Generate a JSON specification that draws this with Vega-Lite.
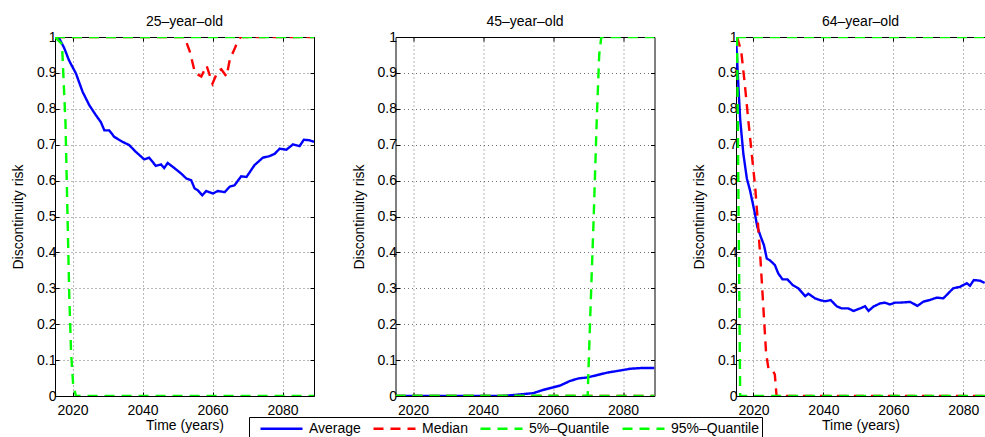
{
  "$schema": "https://vega.github.io/schema/vega-lite/v6.json",
  "padding": {"left": 11, "top": 15, "right": 0, "bottom": 0},
  "config": {
    "font": "Liberation Sans",
    "view": {"stroke": null},
    "title": {"font": "Liberation Sans", "fontSize": 14, "fontWeight": "normal", "color": "#000", "offset": 1},
    "axis": {
      "labelFont": "Liberation Sans", "labelFontSize": 14, "labelColor": "#000",
      "titleFont": "Liberation Sans", "titleFontSize": 14, "titleFontWeight": "normal", "titleColor": "#000",
      "domainColor": "#000", "domainWidth": 1, "tickColor": "#000", "tickSize": -4,
      "gridColor": "#333", "gridDash": [1, 3], "gridOpacity": 0.7, "gridWidth": 1
    },
    "legend": {
      "orient": "none", "legendX": 194, "legendY": 380, "direction": "horizontal", "columns": 4,
      "labelFont": "Liberation Sans", "labelFontSize": 14, "labelColor": "#000",
      "symbolType": "M0,0H6", "symbolSize": 196, "symbolStrokeWidth": 2.5,
      "labelOffset": 40, "columnPadding": 4, "padding": 3,
      "strokeColor": "#000", "fillColor": "#fff"
    }
  },
  "bounds": "flush",
  "spacing": 81.5,
  "data": {"name": "risk"},
  "datasets": {
    "risk": [
      {"age": 25, "series": "Average", "year": 2016, "risk": 1.0},
      {"age": 25, "series": "Average", "year": 2017.6, "risk": 0.97},
      {"age": 25, "series": "Average", "year": 2019, "risk": 0.935},
      {"age": 25, "series": "Average", "year": 2021, "risk": 0.898},
      {"age": 25, "series": "Average", "year": 2022.9, "risk": 0.847},
      {"age": 25, "series": "Average", "year": 2024.8, "risk": 0.81},
      {"age": 25, "series": "Average", "year": 2026.7, "risk": 0.782},
      {"age": 25, "series": "Average", "year": 2028.1, "risk": 0.763},
      {"age": 25, "series": "Average", "year": 2029.1, "risk": 0.74},
      {"age": 25, "series": "Average", "year": 2030.5, "risk": 0.74},
      {"age": 25, "series": "Average", "year": 2031.9, "risk": 0.722},
      {"age": 25, "series": "Average", "year": 2034.3, "risk": 0.708},
      {"age": 25, "series": "Average", "year": 2036.2, "risk": 0.699},
      {"age": 25, "series": "Average", "year": 2038.1, "risk": 0.68},
      {"age": 25, "series": "Average", "year": 2040.5, "risk": 0.659},
      {"age": 25, "series": "Average", "year": 2041.9, "risk": 0.664},
      {"age": 25, "series": "Average", "year": 2043.8, "risk": 0.641},
      {"age": 25, "series": "Average", "year": 2045.3, "risk": 0.645},
      {"age": 25, "series": "Average", "year": 2046.2, "risk": 0.635},
      {"age": 25, "series": "Average", "year": 2047.2, "risk": 0.649},
      {"age": 25, "series": "Average", "year": 2049.1, "risk": 0.635},
      {"age": 25, "series": "Average", "year": 2051, "risk": 0.62},
      {"age": 25, "series": "Average", "year": 2052.5, "risk": 0.606},
      {"age": 25, "series": "Average", "year": 2053.9, "risk": 0.601},
      {"age": 25, "series": "Average", "year": 2054.9, "risk": 0.578},
      {"age": 25, "series": "Average", "year": 2055.8, "risk": 0.573},
      {"age": 25, "series": "Average", "year": 2057.1, "risk": 0.559},
      {"age": 25, "series": "Average", "year": 2058.2, "risk": 0.571},
      {"age": 25, "series": "Average", "year": 2060.1, "risk": 0.564},
      {"age": 25, "series": "Average", "year": 2061.5, "risk": 0.571},
      {"age": 25, "series": "Average", "year": 2063.5, "risk": 0.568},
      {"age": 25, "series": "Average", "year": 2064.9, "risk": 0.583},
      {"age": 25, "series": "Average", "year": 2066.3, "risk": 0.587},
      {"age": 25, "series": "Average", "year": 2068.2, "risk": 0.612},
      {"age": 25, "series": "Average", "year": 2069.7, "risk": 0.61},
      {"age": 25, "series": "Average", "year": 2072, "risk": 0.643},
      {"age": 25, "series": "Average", "year": 2074.4, "risk": 0.664},
      {"age": 25, "series": "Average", "year": 2076.3, "risk": 0.668},
      {"age": 25, "series": "Average", "year": 2077.8, "risk": 0.675},
      {"age": 25, "series": "Average", "year": 2079.2, "risk": 0.689},
      {"age": 25, "series": "Average", "year": 2081.1, "risk": 0.686},
      {"age": 25, "series": "Average", "year": 2083, "risk": 0.701},
      {"age": 25, "series": "Average", "year": 2084.9, "risk": 0.696},
      {"age": 25, "series": "Average", "year": 2086.1, "risk": 0.714},
      {"age": 25, "series": "Average", "year": 2087.8, "risk": 0.712},
      {"age": 25, "series": "Average", "year": 2089, "risk": 0.708},
      {"age": 25, "series": "Median", "year": 2015, "risk": 1},
      {"age": 25, "series": "Median", "year": 2052, "risk": 1},
      {"age": 25, "series": "Median", "year": 2053.5, "risk": 0.96},
      {"age": 25, "series": "Median", "year": 2055, "risk": 0.9},
      {"age": 25, "series": "Median", "year": 2056.8, "risk": 0.89},
      {"age": 25, "series": "Median", "year": 2058.3, "risk": 0.92},
      {"age": 25, "series": "Median", "year": 2060, "risk": 0.87},
      {"age": 25, "series": "Median", "year": 2061.5, "risk": 0.905},
      {"age": 25, "series": "Median", "year": 2062.5, "risk": 0.91},
      {"age": 25, "series": "Median", "year": 2064, "risk": 0.89},
      {"age": 25, "series": "Median", "year": 2065, "risk": 0.94},
      {"age": 25, "series": "Median", "year": 2066, "risk": 0.96},
      {"age": 25, "series": "Median", "year": 2067.3, "risk": 0.99},
      {"age": 25, "series": "Median", "year": 2068, "risk": 1},
      {"age": 25, "series": "Median", "year": 2089, "risk": 1},
      {"age": 25, "series": "5%–Quantile", "year": 2015, "risk": 1},
      {"age": 25, "series": "5%–Quantile", "year": 2017, "risk": 0.98},
      {"age": 25, "series": "5%–Quantile", "year": 2018, "risk": 0.76},
      {"age": 25, "series": "5%–Quantile", "year": 2018.6, "risk": 0.49},
      {"age": 25, "series": "5%–Quantile", "year": 2019.1, "risk": 0.27},
      {"age": 25, "series": "5%–Quantile", "year": 2019.6, "risk": 0.12},
      {"age": 25, "series": "5%–Quantile", "year": 2020.2, "risk": 0.03},
      {"age": 25, "series": "5%–Quantile", "year": 2021, "risk": 0},
      {"age": 25, "series": "5%–Quantile", "year": 2089, "risk": 0},
      {"age": 25, "series": "95%–Quantile", "year": 2015, "risk": 1},
      {"age": 25, "series": "95%–Quantile", "year": 2089, "risk": 1},

      {"age": 45, "series": "Average", "year": 2015, "risk": 0},
      {"age": 45, "series": "Average", "year": 2045, "risk": 0},
      {"age": 45, "series": "Average", "year": 2048, "risk": 0.002},
      {"age": 45, "series": "Average", "year": 2054.4, "risk": 0.008},
      {"age": 45, "series": "Average", "year": 2057.2, "risk": 0.017},
      {"age": 45, "series": "Average", "year": 2060, "risk": 0.024},
      {"age": 45, "series": "Average", "year": 2062, "risk": 0.029},
      {"age": 45, "series": "Average", "year": 2064.9, "risk": 0.042},
      {"age": 45, "series": "Average", "year": 2067.3, "risk": 0.049},
      {"age": 45, "series": "Average", "year": 2070.1, "risk": 0.052},
      {"age": 45, "series": "Average", "year": 2072.5, "risk": 0.058},
      {"age": 45, "series": "Average", "year": 2075.4, "risk": 0.065},
      {"age": 45, "series": "Average", "year": 2079.2, "risk": 0.071},
      {"age": 45, "series": "Average", "year": 2082.1, "risk": 0.076},
      {"age": 45, "series": "Average", "year": 2085.4, "risk": 0.078},
      {"age": 45, "series": "Average", "year": 2089, "risk": 0.078},
      {"age": 45, "series": "Median", "year": 2015, "risk": 0},
      {"age": 45, "series": "Median", "year": 2089, "risk": 0},
      {"age": 45, "series": "5%–Quantile", "year": 2015, "risk": 0},
      {"age": 45, "series": "5%–Quantile", "year": 2089, "risk": 0},
      {"age": 45, "series": "95%–Quantile", "year": 2015, "risk": 0},
      {"age": 45, "series": "95%–Quantile", "year": 2069.9, "risk": 0},
      {"age": 45, "series": "95%–Quantile", "year": 2070.6, "risk": 0.21},
      {"age": 45, "series": "95%–Quantile", "year": 2071.6, "risk": 0.49},
      {"age": 45, "series": "95%–Quantile", "year": 2072.5, "risk": 0.77},
      {"age": 45, "series": "95%–Quantile", "year": 2073.2, "risk": 0.95},
      {"age": 45, "series": "95%–Quantile", "year": 2073.8, "risk": 1},
      {"age": 45, "series": "95%–Quantile", "year": 2089, "risk": 1},

      {"age": 64, "series": "Average", "year": 2015, "risk": 1.0},
      {"age": 64, "series": "Average", "year": 2015.7, "risk": 0.86},
      {"age": 64, "series": "Average", "year": 2016.2, "risk": 0.77},
      {"age": 64, "series": "Average", "year": 2017.1, "risk": 0.675},
      {"age": 64, "series": "Average", "year": 2018.1, "risk": 0.606},
      {"age": 64, "series": "Average", "year": 2019, "risk": 0.573},
      {"age": 64, "series": "Average", "year": 2020.2, "risk": 0.518},
      {"age": 64, "series": "Average", "year": 2021.1, "risk": 0.471},
      {"age": 64, "series": "Average", "year": 2022.1, "risk": 0.443},
      {"age": 64, "series": "Average", "year": 2023, "risk": 0.42},
      {"age": 64, "series": "Average", "year": 2023.8, "risk": 0.383},
      {"age": 64, "series": "Average", "year": 2024.7, "risk": 0.378},
      {"age": 64, "series": "Average", "year": 2026.1, "risk": 0.365},
      {"age": 64, "series": "Average", "year": 2027.1, "risk": 0.341},
      {"age": 64, "series": "Average", "year": 2028.3, "risk": 0.325},
      {"age": 64, "series": "Average", "year": 2029.7, "risk": 0.325},
      {"age": 64, "series": "Average", "year": 2031.2, "risk": 0.309},
      {"age": 64, "series": "Average", "year": 2032.8, "risk": 0.3},
      {"age": 64, "series": "Average", "year": 2034.8, "risk": 0.278},
      {"age": 64, "series": "Average", "year": 2035.7, "risk": 0.285},
      {"age": 64, "series": "Average", "year": 2037.6, "risk": 0.272},
      {"age": 64, "series": "Average", "year": 2039, "risk": 0.267},
      {"age": 64, "series": "Average", "year": 2040.5, "risk": 0.264},
      {"age": 64, "series": "Average", "year": 2042.1, "risk": 0.267},
      {"age": 64, "series": "Average", "year": 2043.8, "risk": 0.25},
      {"age": 64, "series": "Average", "year": 2045.2, "risk": 0.244},
      {"age": 64, "series": "Average", "year": 2047.1, "risk": 0.244},
      {"age": 64, "series": "Average", "year": 2048.6, "risk": 0.237},
      {"age": 64, "series": "Average", "year": 2050.5, "risk": 0.244},
      {"age": 64, "series": "Average", "year": 2051.9, "risk": 0.25},
      {"age": 64, "series": "Average", "year": 2052.9, "risk": 0.237},
      {"age": 64, "series": "Average", "year": 2054.3, "risk": 0.249},
      {"age": 64, "series": "Average", "year": 2056.2, "risk": 0.258},
      {"age": 64, "series": "Average", "year": 2057.6, "risk": 0.26},
      {"age": 64, "series": "Average", "year": 2059, "risk": 0.255},
      {"age": 64, "series": "Average", "year": 2060.5, "risk": 0.26},
      {"age": 64, "series": "Average", "year": 2061.9, "risk": 0.26},
      {"age": 64, "series": "Average", "year": 2064.8, "risk": 0.262},
      {"age": 64, "series": "Average", "year": 2066.9, "risk": 0.251},
      {"age": 64, "series": "Average", "year": 2068.6, "risk": 0.263},
      {"age": 64, "series": "Average", "year": 2070.3, "risk": 0.267},
      {"age": 64, "series": "Average", "year": 2072.4, "risk": 0.274},
      {"age": 64, "series": "Average", "year": 2074.3, "risk": 0.272},
      {"age": 64, "series": "Average", "year": 2075.7, "risk": 0.286},
      {"age": 64, "series": "Average", "year": 2077.1, "risk": 0.3},
      {"age": 64, "series": "Average", "year": 2079, "risk": 0.304},
      {"age": 64, "series": "Average", "year": 2081, "risk": 0.314},
      {"age": 64, "series": "Average", "year": 2081.9, "risk": 0.307},
      {"age": 64, "series": "Average", "year": 2083, "risk": 0.323},
      {"age": 64, "series": "Average", "year": 2084.8, "risk": 0.321},
      {"age": 64, "series": "Average", "year": 2086.1, "risk": 0.315},
      {"age": 64, "series": "Median", "year": 2015.3, "risk": 1},
      {"age": 64, "series": "Median", "year": 2016.5, "risk": 0.96},
      {"age": 64, "series": "Median", "year": 2017.5, "risk": 0.87},
      {"age": 64, "series": "Median", "year": 2018.5, "risk": 0.77},
      {"age": 64, "series": "Median", "year": 2019.5, "risk": 0.675},
      {"age": 64, "series": "Median", "year": 2020.5, "risk": 0.58},
      {"age": 64, "series": "Median", "year": 2021.2, "risk": 0.49},
      {"age": 64, "series": "Median", "year": 2022, "risk": 0.38},
      {"age": 64, "series": "Median", "year": 2022.8, "risk": 0.25},
      {"age": 64, "series": "Median", "year": 2023.6, "risk": 0.12},
      {"age": 64, "series": "Median", "year": 2024.3, "risk": 0.075},
      {"age": 64, "series": "Median", "year": 2025.5, "risk": 0.072},
      {"age": 64, "series": "Median", "year": 2026.1, "risk": 0.06},
      {"age": 64, "series": "Median", "year": 2026.6, "risk": 0},
      {"age": 64, "series": "Median", "year": 2089, "risk": 0},
      {"age": 64, "series": "5%–Quantile", "year": 2015, "risk": 1},
      {"age": 64, "series": "5%–Quantile", "year": 2015.3, "risk": 1},
      {"age": 64, "series": "5%–Quantile", "year": 2016.2, "risk": 0},
      {"age": 64, "series": "5%–Quantile", "year": 2089, "risk": 0},
      {"age": 64, "series": "95%–Quantile", "year": 2015, "risk": 1},
      {"age": 64, "series": "95%–Quantile", "year": 2089, "risk": 1}
    ]
  },
  "hconcat": [
    {
      "title": "25–year–old",
      "width": 259, "height": 359,
      "transform": [{"filter": "datum.age == 25"}],
      "layer": [
        {
          "mark": {"type": "line", "clip": true, "strokeWidth": 2.4},
          "encoding": {
            "x": {"field": "year", "type": "quantitative", "scale": {"domain": [2015, 2089], "nice": false, "zero": false},
                  "axis": {"orient": "bottom", "values": [2020, 2040, 2060, 2080], "format": "d", "grid": true, "labelPadding": 11, "title": "Time (years)", "titlePadding": 1}},
            "y": {"field": "risk", "type": "quantitative", "scale": {"domain": [0, 1], "nice": false},
                  "axis": {"orient": "left", "values": [0, 0.1, 0.2, 0.3, 0.4, 0.5, 0.6, 0.7, 0.8, 0.9, 1], "format": "~g", "grid": true, "labelPadding": 3, "title": "Discontinuity risk", "titlePadding": 11}},
            "color": {"field": "series", "type": "nominal",
                      "scale": {"domain": ["Average", "Median", "5%–Quantile", "95%–Quantile"], "range": ["#0000ff", "#ff0000", "#00ff00", "#00ff00"]},
                      "legend": {"title": null}},
            "strokeDash": {"field": "series", "type": "nominal",
                           "scale": {"domain": ["Average", "Median", "5%–Quantile", "95%–Quantile"], "range": [[1, 0], [10, 7], [10, 7], [10, 7]]},
                           "legend": {"title": null}}
          }
        },
        {
          "mark": {"type": "line", "strokeOpacity": 0},
          "encoding": {
            "x": {"field": "year", "type": "quantitative", "axis": {"orient": "top", "values": [2020, 2040, 2060, 2080], "labels": false, "grid": false, "title": null}},
            "y": {"field": "risk", "type": "quantitative", "axis": {"orient": "right", "values": [0, 0.1, 0.2, 0.3, 0.4, 0.5, 0.6, 0.7, 0.8, 0.9, 1], "labels": false, "grid": false, "title": null}}
          }
        }
      ],
      "resolve": {"axis": {"x": "independent", "y": "independent"}}
    },
    {
      "title": "45–year–old",
      "width": 259, "height": 359,
      "transform": [{"filter": "datum.age == 45"}],
      "layer": [
        {
          "mark": {"type": "line", "clip": true, "strokeWidth": 2.4},
          "encoding": {
            "x": {"field": "year", "type": "quantitative", "scale": {"domain": [2015, 2089], "nice": false, "zero": false},
                  "axis": {"orient": "bottom", "values": [2020, 2040, 2060, 2080], "format": "d", "grid": true, "labelPadding": 11, "title": null}},
            "y": {"field": "risk", "type": "quantitative", "scale": {"domain": [0, 1], "nice": false},
                  "axis": {"orient": "left", "values": [0, 0.1, 0.2, 0.3, 0.4, 0.5, 0.6, 0.7, 0.8, 0.9, 1], "format": "~g", "grid": true, "labelPadding": 3, "title": "Discontinuity risk", "titlePadding": 11}},
            "color": {"field": "series", "type": "nominal",
                      "scale": {"domain": ["Average", "Median", "5%–Quantile", "95%–Quantile"], "range": ["#0000ff", "#ff0000", "#00ff00", "#00ff00"]},
                      "legend": {"title": null}},
            "strokeDash": {"field": "series", "type": "nominal",
                           "scale": {"domain": ["Average", "Median", "5%–Quantile", "95%–Quantile"], "range": [[1, 0], [10, 7], [10, 7], [10, 7]]},
                           "legend": {"title": null}}
          }
        },
        {
          "mark": {"type": "line", "strokeOpacity": 0},
          "encoding": {
            "x": {"field": "year", "type": "quantitative", "axis": {"orient": "top", "values": [2020, 2040, 2060, 2080], "labels": false, "grid": false, "title": null}},
            "y": {"field": "risk", "type": "quantitative", "axis": {"orient": "right", "values": [0, 0.1, 0.2, 0.3, 0.4, 0.5, 0.6, 0.7, 0.8, 0.9, 1], "labels": false, "grid": false, "title": null}}
          }
        }
      ],
      "resolve": {"axis": {"x": "independent", "y": "independent"}}
    },
    {
      "title": "64–year–old",
      "width": 249, "height": 359,
      "transform": [{"filter": "datum.age == 64"}],
      "layer": [
        {
          "mark": {"type": "line", "clip": true, "strokeWidth": 2.4},
          "encoding": {
            "x": {"field": "year", "type": "quantitative", "scale": {"domain": [2015, 2086.2], "nice": false, "zero": false},
                  "axis": {"orient": "bottom", "values": [2020, 2040, 2060, 2080], "format": "d", "grid": true, "labelPadding": 11, "title": "Time (years)", "titlePadding": 1}},
            "y": {"field": "risk", "type": "quantitative", "scale": {"domain": [0, 1], "nice": false},
                  "axis": {"orient": "left", "values": [0, 0.1, 0.2, 0.3, 0.4, 0.5, 0.6, 0.7, 0.8, 0.9, 1], "format": "~g", "grid": true, "labelPadding": 3, "title": "Discontinuity risk", "titlePadding": 11}},
            "color": {"field": "series", "type": "nominal",
                      "scale": {"domain": ["Average", "Median", "5%–Quantile", "95%–Quantile"], "range": ["#0000ff", "#ff0000", "#00ff00", "#00ff00"]},
                      "legend": {"title": null}},
            "strokeDash": {"field": "series", "type": "nominal",
                           "scale": {"domain": ["Average", "Median", "5%–Quantile", "95%–Quantile"], "range": [[1, 0], [10, 7], [10, 7], [10, 7]]},
                           "legend": {"title": null}}
          }
        },
        {
          "mark": {"type": "line", "strokeOpacity": 0, "clip": true},
          "encoding": {
            "x": {"field": "year", "type": "quantitative", "axis": {"orient": "top", "values": [2020, 2040, 2060, 2080], "labels": false, "grid": false, "title": null}}
          }
        }
      ],
      "resolve": {"axis": {"x": "independent", "y": "independent"}}
    }
  ]
}
